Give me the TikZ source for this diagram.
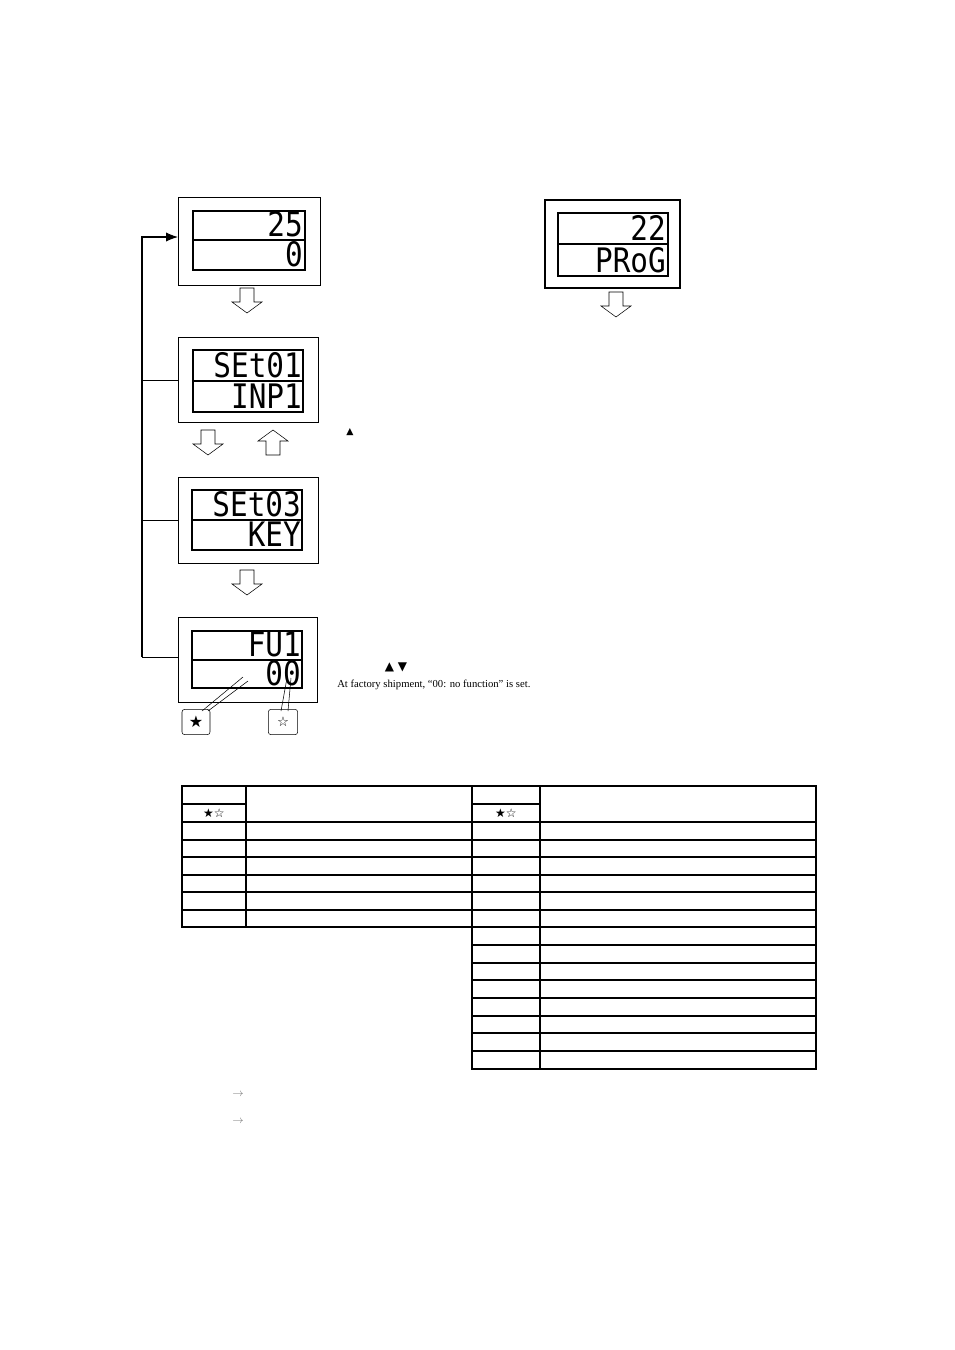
\documentclass[tikz,border=0pt]{standalone}
\usepackage{fontspec}
\setmainfont{Liberation Serif}
\newfontfamily\lcdfont{DejaVu Sans Mono}
\newfontfamily\symfont{DejaVu Sans}
\usetikzlibrary{positioning,arrows.meta}
\tikzset{
  lcd/.style={font=\lcdfont\fontsize{22}{22}\selectfont, inner sep=0pt, anchor=base east, yscale=1.15},
  hollow/.style={draw, thin, fill=white},
  tabline/.style={line width=0.8pt},
}
% hollow arrow, tip pointing down (+1) or up (-1)
\newcommand{\hollowarrow}[3]{%
  \draw[hollow] (#1-7,#2) -- (#1+7,#2) -- (#1+7,#2+#3*14) -- (#1+15,#2+#3*14)
    -- (#1,#2+#3*25) -- (#1-15,#2+#3*14) -- (#1-7,#2+#3*14) -- cycle;}
\begin{document}
\begin{tikzpicture}[x=0.75pt, y=-0.75pt]
    \useasboundingbox (0,0) rectangle (954,1350);

    % displays
    \draw (178,197) rectangle (320,285);
    \draw[thick] (193,211) rectangle (305,270); \draw[thick] (193,240) -- (305,240);
    \node[lcd] (d1a) at (303,236) {25};
    \node[lcd] (d1b) at (303,266) {0};

    \draw (178,337) rectangle (318,422);
    \draw[thick] (193,350) rectangle (303,412); \draw[thick] (193,381) -- (303,381);
    \node[lcd] (d2a) at (302,377) {SEt01};
    \node[lcd] (d2b) at (302,408) {INP1};

    \draw (178,477) rectangle (318,563);
    \draw[thick] (192,490) rectangle (302,550); \draw[thick] (192,520) -- (302,520);
    \node[lcd] (d3a) at (301,516) {SEt03};
    \node[lcd] (d3b) at (301,546) {KEY};

    \draw (178,617) rectangle (317,702);
    \draw[thick] (192,631) rectangle (302,688); \draw[thick] (192,660) -- (302,660);
    \node[lcd] (d4a) at (301,656) {FU1};
    \node[lcd] (d4b) at (301,685) {00};

    \draw[thick] (545,200) rectangle (680,288);
    \draw[thick] (558,213) rectangle (668,276); \draw[thick] (558,244) -- (668,244);
    \node[lcd] (d5a) at (666,240) {22};
    \node[lcd] (d5b) at (666,272) {PRoG};

    % hollow arrows
    \hollowarrow{247}{288}{1}
    \hollowarrow{208}{430}{1}
    \hollowarrow{273}{455}{-1}
    \hollowarrow{247}{570}{1}
    \hollowarrow{616}{292}{1}

    % return line
    \draw[thick, -{Latex[length=9pt,width=7pt]}] (142,657) -- (142,237) -- (178,237);
    \draw (142,380) -- (178,380);
    \draw (142,520) -- (178,520);
    \draw (142,657) -- (178,657);

    % star callouts
    \node[draw, rounded corners=2pt, minimum width=21pt, minimum height=19pt, font=\symfont\large] (fstar) at (196,722) {★};
    \node[draw, rounded corners=2pt, minimum width=22pt, minimum height=19pt, font=\symfont] (hstar) at (283,722) {☆};
    \draw (202,711) -- (243,677); \draw (208,711) -- (248,681);
    \draw (281,711) -- (287,678); \draw (288,711) -- (291,678);

    % notes
    \node[font=\symfont\scriptsize] (up1) at (350,432) {▲};
    \node[font=\symfont\small] (updn) at (396,667) {▲ ▼};
    \node[font=\footnotesize, anchor=west, inner sep=0pt] (note) at (337,685) {At factory shipment, ``00: no function'' is set.};

    % table
    \draw[tabline] (182,786) rectangle (472,927);
    \draw[tabline] (472,786) rectangle (816,1069);
    \draw[tabline] (246,786) -- (246,927);
    \draw[tabline] (540,786) -- (540,1069);
    \draw[tabline] (182,804) -- (246,804);
    \draw[tabline] (472,804) -- (540,804);
    \foreach \y in {822,840,857,875,892,910}
        \draw[tabline] (182,\y) -- (816,\y);
    \foreach \y in {927,945,963,980,998,1016,1033,1051}
        \draw[tabline] (472,\y) -- (816,\y);
    \node[font=\symfont\small] (hl) at (214,813) {★☆};
    \node[font=\symfont\small] (hr) at (506,813) {★☆};

    \node[gray, font=\footnotesize] (ar1) at (238,1094) {$\rightarrow$};
    \node[gray, font=\footnotesize] (ar2) at (238,1121) {$\rightarrow$};
\end{tikzpicture}
\end{document}
